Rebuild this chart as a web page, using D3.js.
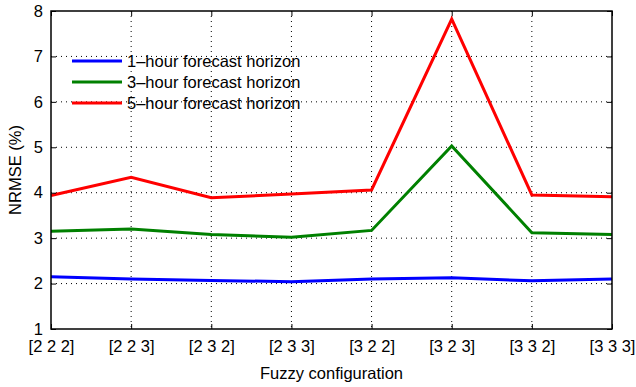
<!DOCTYPE html>
<html><head><meta charset="utf-8">
<script src="https://cdn.jsdelivr.net/npm/d3@7"></script>
<style>body{margin:0;background:#fff}svg{display:block}text{font-family:"Liberation Sans",Arial,sans-serif;fill:#000}</style>
</head><body><svg id="c" width="636" height="387"></svg>
<script>
const categories = ["[2 2 2]","[2 2 3]","[2 3 2]","[2 3 3]","[3 2 2]","[3 2 3]","[3 3 2]","[3 3 3]"];
const h1 = [2.15,2.10,2.07,2.04,2.10,2.13,2.06,2.10];
const h3 = [3.15,3.20,3.08,3.02,3.17,5.03,3.12,3.08];
const h5 = [3.94,4.34,3.89,3.97,4.06,7.82,3.95,3.91];
const seriesNames = ["1\u2013hour forecast horizon","3\u2013hour forecast horizon","5\u2013hour forecast horizon"];
const seriesColors = ["#0000ff","#008000","#ff0000"];
const yTicks = [1,2,3,4,5,6,7,8];

(function(){
const FS = 16.5;
const svg = d3.select("#c");
const L=51, R=612, T=11, B=329;
const x = d3.scalePoint().domain(categories).range([L,R]);
const y = d3.scaleLinear().domain([1,8]).range([B,T]);

// grid
const g = svg.append("g");
g.selectAll(".vg").data(categories.slice(1,-1)).enter().append("line")
 .attr("x1",d=>x(d)).attr("x2",d=>x(d)).attr("y1",T).attr("y2",B)
 .attr("stroke","#000").attr("stroke-width",1).attr("stroke-dasharray","1,4");
g.selectAll(".hg").data(yTicks.slice(1,-1)).enter().append("line")
 .attr("x1",L).attr("x2",R).attr("y1",d=>y(d)).attr("y2",d=>y(d))
 .attr("stroke","#000").attr("stroke-width",1).attr("stroke-dasharray","1,4");

// lines
const line = d3.line().x((d,i)=>x(categories[i])).y(d=>y(d));
[h1,h3,h5].forEach((s,i)=>{
  svg.append("path").datum(s).attr("d",line).attr("fill","none")
   .attr("stroke",seriesColors[i]).attr("stroke-width",3).attr("stroke-linejoin","miter");
});

// axes
const ax = svg.append("g");
const fix = s=>{s.select(".domain").remove();s.selectAll("text").attr("font-size",FS).attr("font-family","Liberation Sans, Arial, sans-serif");};
ax.append("g").attr("transform",`translate(0,${B})`)
  .call(d3.axisBottom(x).tickSizeInner(-5).tickSizeOuter(0).tickPadding(11)).call(fix);
ax.append("g").attr("transform",`translate(0,${T})`)
  .call(d3.axisTop(x).tickSizeInner(-5).tickSizeOuter(0).tickFormat("")).call(fix);
ax.append("g").attr("transform",`translate(${L},0)`)
  .call(d3.axisLeft(y).tickValues(yTicks).tickSizeInner(-5).tickSizeOuter(0).tickPadding(8).tickFormat(d3.format("d"))).call(fix);
ax.append("g").attr("transform",`translate(${R},0)`)
  .call(d3.axisRight(y).tickValues(yTicks).tickSizeInner(-5).tickSizeOuter(0).tickFormat("")).call(fix);
ax.selectAll(".tick line").attr("stroke","#000").attr("stroke-width",1);

svg.append("rect").attr("x",L).attr("y",T).attr("width",R-L).attr("height",B-T)
 .attr("fill","none").attr("stroke","#000").attr("stroke-width",1.5);

// axis titles
svg.append("text").attr("x",(L+R)/2).attr("y",379).attr("text-anchor","middle").attr("font-size",FS).text("Fuzzy configuration");
svg.append("text").attr("transform",`translate(21,${(T+B)/2}) rotate(-90)`).attr("text-anchor","middle").attr("font-size",FS).text("NRMSE (%)");

// legend
const lg = svg.append("g");
seriesNames.forEach((n,i)=>{
  const yy = 61 + i*21;
  lg.append("line").attr("x1",72).attr("x2",122).attr("y1",yy).attr("y2",yy).attr("stroke",seriesColors[i]).attr("stroke-width",3);
  lg.append("text").attr("x",127).attr("y",yy+6).attr("font-size",FS).text(n);
});
})();
</script></body></html>
